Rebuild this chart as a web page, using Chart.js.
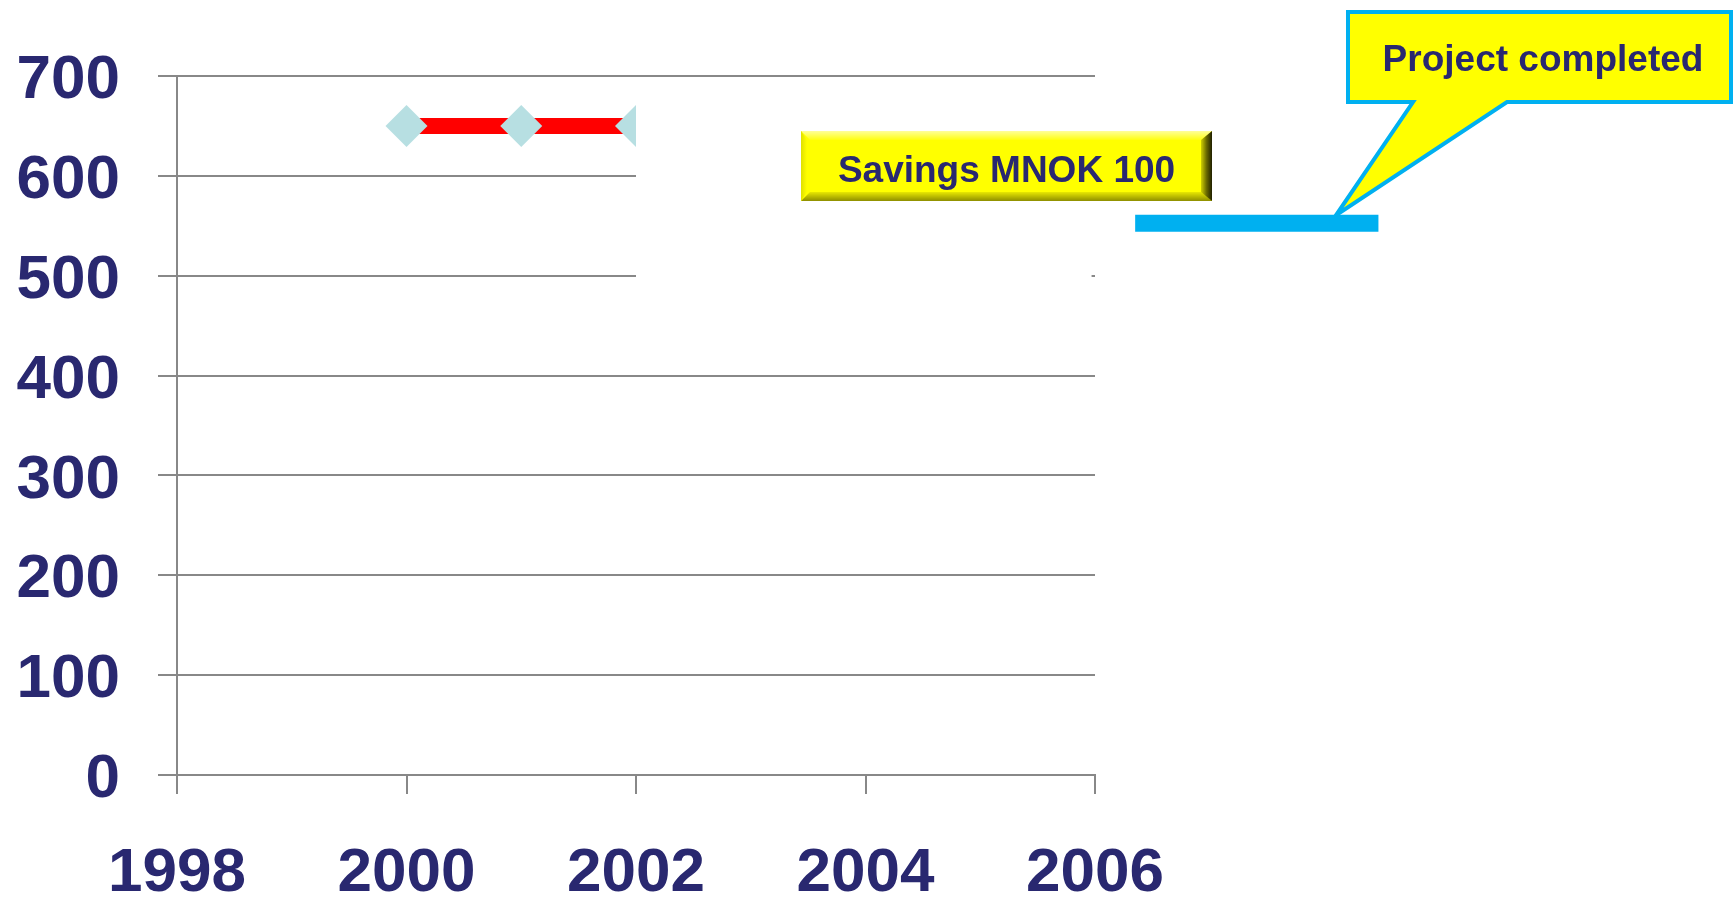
<!DOCTYPE html>
<html><head><meta charset="utf-8">
<script src="https://cdn.jsdelivr.net/npm/chart.js@4.4.1/dist/chart.umd.min.js"></script>
<style>html,body{margin:0;padding:0;background:#fff;overflow:hidden}#wrap{width:1735px;height:898px;position:relative}canvas{display:block}</style>
</head><body><div id="wrap"><canvas id="c" width="1735" height="898"></canvas></div>
<script>
// ---- data ----
const savingsYears = [2000, 2001, 2002];
const savingsValues = [650, 650, 650];
const completedYears = [2006.35, 2008.47];
const completedValues = [552.5, 552.5];
const xTickValues = [1998, 2000, 2002, 2004, 2006];
const yTickValues = [0, 100, 200, 300, 400, 500, 600, 700];
const maskYears = [2002, 2005.97];
const maskValues = [497, 690];
const calloutTipYear = 2008.1;
const boxLabel = 'Savings MNOK 100';
const calloutLabel = 'Project completed';

const NAVY = '#292870';
const GRID = '#888888';
const FONT = '"Liberation Sans", Arial, Helvetica, sans-serif';

function poly(ctx, pts, fill) {
  ctx.beginPath();
  ctx.moveTo(pts[0][0], pts[0][1]);
  for (let i = 1; i < pts.length; i++) ctx.lineTo(pts[i][0], pts[i][1]);
  ctx.closePath();
  ctx.fillStyle = fill;
  ctx.fill();
}

function bevelBox(ctx, x0, y0, x1, y1) {
  const b = 9;
  ctx.fillStyle = '#FFFF00';
  ctx.fillRect(x0, y0, x1 - x0, y1 - y0);
  let g = ctx.createLinearGradient(0, y0, 0, y0 + b);
  g.addColorStop(0, '#FFFF9A'); g.addColorStop(1, '#FFFF10');
  poly(ctx, [[x0, y0], [x1, y0], [x1 - b, y0 + b], [x0 + b, y0 + b]], g);
  g = ctx.createLinearGradient(0, y1 - b, 0, y1);
  g.addColorStop(0, '#E8E800'); g.addColorStop(1, '#8E8E00');
  poly(ctx, [[x0, y1], [x1, y1], [x1 - b, y1 - b], [x0 + b, y1 - b]], g);
  g = ctx.createLinearGradient(x0, 0, x0 + 6, 0);
  g.addColorStop(0, '#E0E000'); g.addColorStop(1, '#FFFF00');
  poly(ctx, [[x0, y0], [x0 + 6, y0 + b], [x0 + 6, y1 - b], [x0, y1]], g);
  g = ctx.createLinearGradient(x1 - 11, 0, x1, 0);
  g.addColorStop(0, '#D0D000'); g.addColorStop(0.5, '#6A6A00'); g.addColorStop(1, '#202000');
  poly(ctx, [[x1, y0], [x1, y1], [x1 - 11, y1 - b], [x1 - 11, y0 + b]], g);
}

const overlayPlugin = {
  id: 'overlay',
  afterDatasetsDraw(chart) {
    const ctx = chart.ctx;
    const xs = chart.scales.x, ys = chart.scales.y;
    ctx.save();
    // white cover shape over part of the plot
    const mx0 = xs.getPixelForValue(maskYears[0]), mx1 = xs.getPixelForValue(maskYears[1]);
    const my0 = ys.getPixelForValue(maskValues[1]), my1 = ys.getPixelForValue(maskValues[0]);
    ctx.fillStyle = '#FFFFFF';
    ctx.fillRect(mx0, my0, mx1 - mx0, my1 - my0);

    // Savings box
    bevelBox(ctx, 801, 131, 1212, 201);
    ctx.fillStyle = NAVY;
    ctx.font = 'bold 37px ' + FONT;
    ctx.textAlign = 'center';
    ctx.textBaseline = 'alphabetic';
    ctx.fillText(boxLabel, 1006.5, 182);

    // Callout
    const tipX = xs.getPixelForValue(calloutTipYear);
    const tipY = ys.getPixelForValue(completedValues[0]) - 8;
    ctx.beginPath();
    ctx.moveTo(1348, 12);
    ctx.lineTo(1731, 12);
    ctx.lineTo(1731, 102);
    ctx.lineTo(1507, 102);
    ctx.lineTo(tipX, tipY);
    ctx.lineTo(1413, 102);
    ctx.lineTo(1348, 102);
    ctx.closePath();
    ctx.fillStyle = '#FFFF00';
    ctx.fill();
    ctx.lineWidth = 4;
    ctx.lineJoin = 'miter';
    ctx.strokeStyle = '#00B0F0';
    ctx.stroke();
    ctx.fillStyle = NAVY;
    ctx.font = 'bold 37px ' + FONT;
    ctx.fillText(calloutLabel, 1543, 71);
    ctx.restore();
  }
};

const tickFont = { family: FONT, size: 62, weight: 'bold' };

new Chart(document.getElementById('c'), {
  type: 'scatter',
  data: {
    datasets: [
      {
        label: 'Savings',
        data: savingsYears.map((x, i) => ({ x, y: savingsValues[i] })),
        showLine: true,
        borderColor: '#FF0000',
        borderWidth: 16,
        borderCapStyle: 'butt',
        pointStyle: 'rectRot',
        pointRadius: 21,
        pointBackgroundColor: '#B7DFE2',
        pointBorderColor: '#B7DFE2',
        pointBorderWidth: 0,
        order: 1
      },
      {
        label: 'Completed',
        data: completedYears.map((x, i) => ({ x, y: completedValues[i] })),
        showLine: true,
        borderColor: '#00B0F0',
        borderWidth: 17,
        borderCapStyle: 'butt',
        pointRadius: 0,
        clip: false,
        order: 2
      }
    ]
  },
  options: {
    responsive: false,
    devicePixelRatio: 1,
    animation: false,
    events: [],
    layout: { padding: { left: 0, top: 76, right: 640, bottom: 0 } },
    plugins: { legend: { display: false }, tooltip: { enabled: false } },
    scales: {
      x: {
        type: 'linear',
        min: 1998, max: 2006,
        afterBuildTicks: s => { s.ticks = xTickValues.map(v => ({ value: v })); },
        afterFit: s => { s.height = 123; },
        grid: { drawOnChartArea: false, drawTicks: true, tickLength: 19, color: GRID, lineWidth: 2 },
        border: { display: true, color: GRID, width: 2 },
        ticks: { font: tickFont, color: NAVY, padding: 43, maxRotation: 0, autoSkip: false, callback: v => String(v) }
      },
      y: {
        type: 'linear',
        min: 0, max: 700,
        afterBuildTicks: s => { s.ticks = yTickValues.map(v => ({ value: v })); },
        afterFit: s => { s.width = 177; },
        grid: { drawOnChartArea: true, drawTicks: true, tickLength: 19, color: GRID, lineWidth: 2 },
        border: { display: true, color: GRID, width: 2 },
        ticks: { font: tickFont, color: NAVY, padding: 38, labelOffset: 5, autoSkip: false, callback: v => String(v) }
      }
    }
  },
  plugins: [overlayPlugin]
});
</script>
</body></html>
